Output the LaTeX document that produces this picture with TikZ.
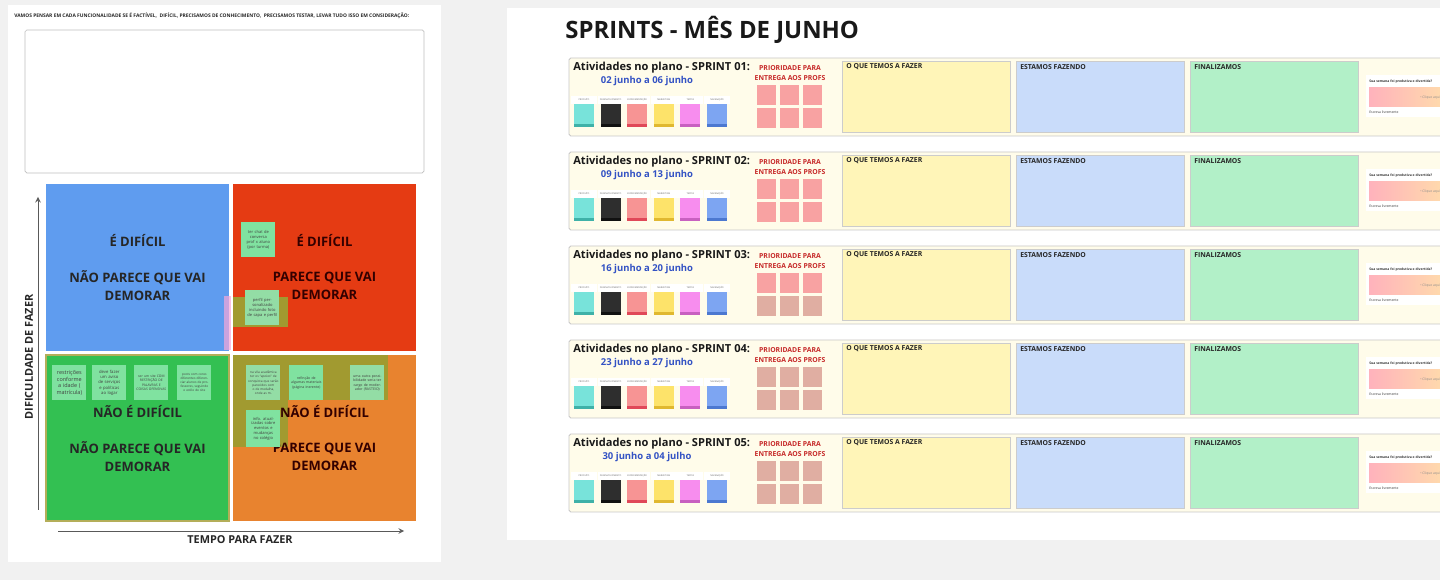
\documentclass[tikz,border=0pt]{standalone}
\usepackage{fontspec}
\setmainfont{Open Sans}
\usetikzlibrary{positioning}

\definecolor{pagegray}{HTML}{F1F1F1}
\definecolor{quadblue}{HTML}{5F9CEF}
\definecolor{quadred}{HTML}{E53B13}
\definecolor{quadgreen}{HTML}{33C052}
\definecolor{quadorange}{HTML}{E8832F}
\definecolor{olivepatch}{HTML}{A19A30}
\definecolor{stickygreen}{HTML}{80E2A0}
\definecolor{rowcream}{HTML}{FFFCEA}
\definecolor{todoyellow}{HTML}{FFF5B8}
\definecolor{doingblue}{HTML}{C9DCFA}
\definecolor{donegreen}{HTML}{B2F0C8}
\definecolor{prioritypink}{HTML}{F8A2A2}
\definecolor{prioritybrown}{HTML}{E0AEA2}
\definecolor{datablue}{HTML}{3352C4}
\definecolor{prioritytext}{HTML}{C62828}
\definecolor{moodpink}{HTML}{FFB2BC}
\definecolor{moodyellow}{HTML}{FFE9A6}

\tikzset{
  quadtext/.style={font=\bfseries\fontsize{7.4}{10.2}\selectfont, align=center, text=black!85},
  axislabel/.style={font=\bfseries\fontsize{6.2}{7}\selectfont, text=black!85},
  axisline/.style={->, >=stealth, line width=0.4pt, black!65},
  stickynote/.style={anchor=north west, fill=stickygreen, minimum width=0.68cm, minimum height=0.7cm,
    text width=0.62cm, align=center, inner sep=0pt, text=black!75, font=\fontsize{2.3}{2.8}\selectfont},
  colbox/.style={draw=black!20, line width=0.4pt},
  colhead/.style={anchor=west, inner sep=0pt, font=\bfseries\fontsize{3.9}{4.5}\selectfont, text=black!85},
  swatchlabel/.style={inner sep=0pt, font=\fontsize{1.3}{1.5}\selectfont, text=black!60},
  smalltext/.style={anchor=west, inner sep=0pt, font=\fontsize{1.9}{2.2}\selectfont, text=black!80},
}

\begin{document}
\begin{tikzpicture}[x=0.02cm, y=-0.02cm]
\clip (0,0) rectangle (1440,580);
\fill[pagegray] (0,0) rectangle (1440,580);

% painel da matriz
\fill[white] (8,5) rectangle (441,562);
\node[anchor=west, inner sep=0pt, font=\bfseries\fontsize{2.8}{3.2}\selectfont, text=black!85] (intro) at (14,16)
  {VAMOS PENSAR EM CADA FUNCIONALIDADE SE É FACTÍVEL,\ \ DIFÍCIL, PRECISAMOS DE CONHECIMENTO,\ \ PRECISAMOS TESTAR, LEVAR TUDO ISSO EM CONSIDERAÇÃO:};
\draw[draw=black!25, fill=white, rounded corners=1pt] (25,30) rectangle (424,173);

\fill[quadblue] (46,184) rectangle (229,351);
\fill[quadred] (233,184) rectangle (416,351);
\draw[quadgreen, draw=olivepatch!80, line width=0.8pt] (46,355) rectangle (229,521);
\fill[quadgreen] (47,356) rectangle (228,520);
\fill[quadorange] (233,355) rectangle (416,521);
\fill[magenta!35, opacity=0.7] (224,296) rectangle (231,350);
\fill[olivepatch] (233,297) rectangle (288,327);
\fill[olivepatch] (233,355) rectangle (388,400);
\fill[olivepatch] (233,400) rectangle (288,447);

\node[quadtext] (bluetop) at (137.5,241) {É DIFÍCIL};
\node[quadtext] (bluebottom) at (137.5,286) {NÃO PARECE QUE VAI\\DEMORAR};
\node[quadtext, text=black!80!red] (redtop) at (324.5,241) {É DIFÍCIL};
\node[quadtext, text=black!80!red] (redbottom) at (324.5,286) {PARECE QUE VAI\\DEMORAR};
\node[quadtext] (greentop) at (137.5,412) {NÃO É DIFÍCIL};
\node[quadtext] (greenbottom) at (137.5,456.5) {NÃO PARECE QUE VAI\\DEMORAR};
\node[quadtext, text=black!80!red] (orangetop) at (324.5,412) {NÃO É DIFÍCIL};
\node[quadtext, text=black!80!red] (orangebottom) at (324.5,456.5) {PARECE QUE VAI\\DEMORAR};

% post-its
\node[stickynote] (chat) at (241,222) {ter chat de conversa prof x aluno (por turma)};
\node[stickynote, fill=stickygreen!85!pink] (perfil) at (245,290) {perfil personalizado incluindo foto de capa e perfil};
\node[stickynote, font=\fontsize{3.1}{3.7}\selectfont] (idade) at (52,365) {restrições conforme a idade ( matrícula)};
\node[stickynote, font=\fontsize{2.4}{2.9}\selectfont] (aviso) at (92,365) {deve fazer um aviso de serviços e políticas ao logar};
\node[stickynote, font=\fontsize{1.9}{2.4}\selectfont] (palavras) at (134,365) {ser um site COM RESTRIÇÃO DE PALAVRAS E COISAS OFENSIVAS};
\node[stickynote, font=\fontsize{1.8}{2.3}\selectfont] (cores) at (177,365) {posts com cores diferentes diferenciar alunos de professores, seguindo o estilo do site};
\node[stickynote, fill=stickygreen!85!pink, font=\fontsize{1.8}{2.3}\selectfont] (medalha) at (246,365) {na vila acadêmica ter os ``apoios'' de conquista que serão parecidos com o de medalha, onde as m.};
\node[stickynote, font=\fontsize{2}{2.5}\selectfont] (materiais) at (289,365) {refinção de algumas materiais (página inerente)};
\node[stickynote, fill=stickygreen!85!pink, font=\fontsize{2}{2.5}\selectfont] (moderador) at (350,365) {uma outra possibilidade seria ter cargo de moderador (RASTEIO)};
\node[stickynote, minimum height=0.74cm, font=\fontsize{2.3}{2.8}\selectfont] (eventos) at (246,410) {info. atualizadas sobre eventos e mudanças no colégio};

% eixos
\coordinate (ybottom) at (38,510);
\coordinate (ytop) at (38,197);
\coordinate (xleft) at (58,531);
\coordinate (xright) at (404,531);
\draw[axisline] (ybottom) -- (ytop);
\draw[axisline] (xleft) -- (xright);
\node[axislabel, rotate=90] (dificuldade) at (29,357) {DIFICULDADE DE FAZER};
\node[axislabel] (tempo) at (240,540) {TEMPO PARA FAZER};

% painel das sprints
\fill[white] (507,8) rectangle (1450,540);
\node[anchor=west, inner sep=0pt, font=\bfseries\fontsize{13.6}{15}\selectfont, text=black!90] (titulo) at (565,30) {SPRINTS - MÊS DE JUNHO};

\foreach \row/\dates/\pa/\pb [evaluate=\row as \rowtop using 58+(\row-1)*94] in
  {1/{02 junho a 06 junho}/prioritypink/prioritypink,
   2/{09 junho a 13 junho}/prioritypink/prioritypink,
   3/{16 junho a 20 junho}/prioritypink/prioritybrown,
   4/{23 junho a 27 junho}/prioritybrown/prioritybrown,
   5/{30 junho a 04 julho}/prioritybrown/prioritybrown}
{
  \draw[draw=black!22, fill=rowcream, line width=0.5pt, rounded corners=1pt] (569,\rowtop) rectangle (1460,\rowtop+78);
  \node[anchor=west, inner sep=0pt, font=\bfseries\fontsize{6.3}{7}\selectfont, text=black!90] (sprint\row) at (573,\rowtop+10) {Atividades no plano - SPRINT 0\row:};
  \node[inner sep=0pt, font=\bfseries\fontsize{5.4}{6.5}\selectfont, text=datablue] (dates\row) at (647,\rowtop+23) {\dates};
  % categorias
  \foreach \swfill/\swdark/\swname [count=\k from 0] in
    {78E3DA/3FB1A8/PRODUTO, 2E2E2E/111111/DESENVOLVIMENTO, F79494/E04858/EXPERIMENTAÇÃO,
     FDE36A/E0B830/MARKETING, F78DEE/C860C0/TESTES, 7DA5F2/4C78D0/NAVEGAÇÃO}
  {
    \pgfmathsetmacro\swx{574+\k*26.6}
    \fill[white] (\swx-3,\rowtop+38) rectangle (\swx+23,\rowtop+46);
    \node[swatchlabel] (label\row-\k) at (\swx+10,\rowtop+42) {\swname};
    \definecolor{swmain}{HTML}{\swfill}
    \definecolor{swedge}{HTML}{\swdark}
    \fill[swmain] (\swx,\rowtop+46) rectangle (\swx+20,\rowtop+69);
    \fill[swedge] (\swx,\rowtop+66) rectangle (\swx+20,\rowtop+69);
  }
  % prioridade
  \node[align=center, inner sep=0pt, font=\bfseries\fontsize{3.9}{5.7}\selectfont, text=prioritytext] (prioridade\row) at (790,\rowtop+15) {PRIORIDADE PARA\\ENTREGA AOS PROFS};
  \foreach \c in {0,1,2}
  {
    \fill[\pa] (757+\c*23,\rowtop+27) rectangle (776+\c*23,\rowtop+47);
    \fill[\pb] (757+\c*23,\rowtop+50) rectangle (776+\c*23,\rowtop+70);
  }
  % colunas do quadro
  \draw[colbox, fill=todoyellow] (842,\rowtop+3) rectangle (1010,\rowtop+74);
  \draw[colbox, fill=doingblue] (1016,\rowtop+3) rectangle (1184,\rowtop+74);
  \draw[colbox, fill=donegreen] (1190,\rowtop+3) rectangle (1358,\rowtop+74);
  \node[colhead] (fazer\row) at (846,\rowtop+9) {O QUE TEMOS A FAZER};
  \node[colhead] (fazendo\row) at (1020,\rowtop+9) {ESTAMOS FAZENDO};
  \node[colhead] (feito\row) at (1194,\rowtop+9) {FINALIZAMOS};
  % termometro da semana
  \fill[white] (1366,\rowtop+17) rectangle (1460,\rowtop+59);
  \node[smalltext, font=\bfseries\fontsize{1.9}{2.2}\selectfont] (semana\row) at (1369,\rowtop+24) {Sua semana foi produtiva e divertida?};
  \shade[left color=moodpink, right color=moodyellow] (1369,\rowtop+30) rectangle (1470,\rowtop+49);
  \node[smalltext, text=black!45] (clique\row) at (1420,\rowtop+40) {\textbullet\ Clique aqui};
  \node[smalltext] (livre\row) at (1369,\rowtop+54) {Escreva livremente};
}
\end{tikzpicture}
\end{document}
